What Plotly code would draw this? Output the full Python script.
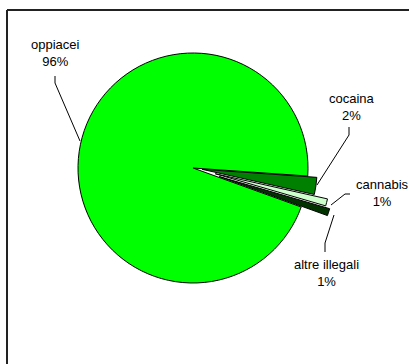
import plotly.graph_objects as go

# ---- data ----
categories = ["cocaina", "cannabis", "altre illegali", "oppiacei"]
values = [2.4, 1.0, 1.0, 95.6]

# ---- styles / layout constants ----
colors = ["#008000", "#ccffcc", "#003300", "#00ff00"]
pulls = [0.08, 0.2, 0.24, 0]
W, H = 409, 364
FONT = "Liberation Sans, Arial, sans-serif"
R = 115            # pie radius in px
CX, CY = 193, 168  # pie centre in px


def px(x, y):
    return x / W, 1 - y / H


half = R * (1 + max(pulls))
fig = go.Figure(
    go.Pie(
        labels=categories,
        values=values,
        sort=False,
        direction="clockwise",
        rotation=94,
        pull=pulls,
        marker=dict(colors=colors, line=dict(color="black", width=1)),
        textinfo="none",
        hoverinfo="label+percent",
        showlegend=False,
        domain=dict(x=[(CX - half) / W, (CX + half) / W],
                    y=[1 - (CY + half) / H, 1 - (CY - half) / H]),
    )
)

total = sum(values)
label_pos = {
    "oppiacei": (55, 53),
    "cocaina": (352, 107),
    "cannabis": (382, 193),
    "altre illegali": (326, 273),
}
leaders = {
    "oppiacei": [(55, 76), (55, 83), (80, 141)],
    "cocaina": [(349, 127), (349, 135), (317, 185)],
    "cannabis": [(350, 194), (345, 194), (331, 205)],
    "altre illegali": [(325, 252), (325, 243), (334, 215)],
}

annotations = []
shapes = []
for cat, val in zip(categories, values):
    x, y = px(*label_pos[cat])
    annotations.append(
        dict(
            x=x, y=y, xref="paper", yref="paper",
            text=f"{cat}<br>{round(100 * val / total)}%",
            showarrow=False,
            font=dict(family=FONT, size=13, color="black"),
            xanchor="center", yanchor="middle", align="center",
        )
    )
    pts = [px(a, b) for a, b in leaders[cat]]
    path = "M " + " L ".join(f"{a},{b}" for a, b in pts)
    shapes.append(
        dict(type="path", path=path, xref="paper", yref="paper",
             line=dict(color="black", width=1))
    )

# chart frame (top and left edges visible)
x0, y0 = px(7, 10)
shapes.append(dict(type="line", xref="paper", yref="paper", x0=x0, y0=y0, x1=1.01, y1=y0,
                   line=dict(color="#222222", width=2)))
shapes.append(dict(type="line", xref="paper", yref="paper", x0=x0, y0=y0, x1=x0, y1=-0.01,
                   line=dict(color="#222222", width=2)))

fig.update_layout(
    width=W, height=H,
    margin=dict(l=0, r=0, t=0, b=0),
    paper_bgcolor="white", plot_bgcolor="white",
    annotations=annotations,
    shapes=shapes,
)

fig.write_html(
    "out.html",
    config={"displayModeBar": False},
    post_script="document.body.style.margin='0';document.body.style.overflow='hidden';",
)
